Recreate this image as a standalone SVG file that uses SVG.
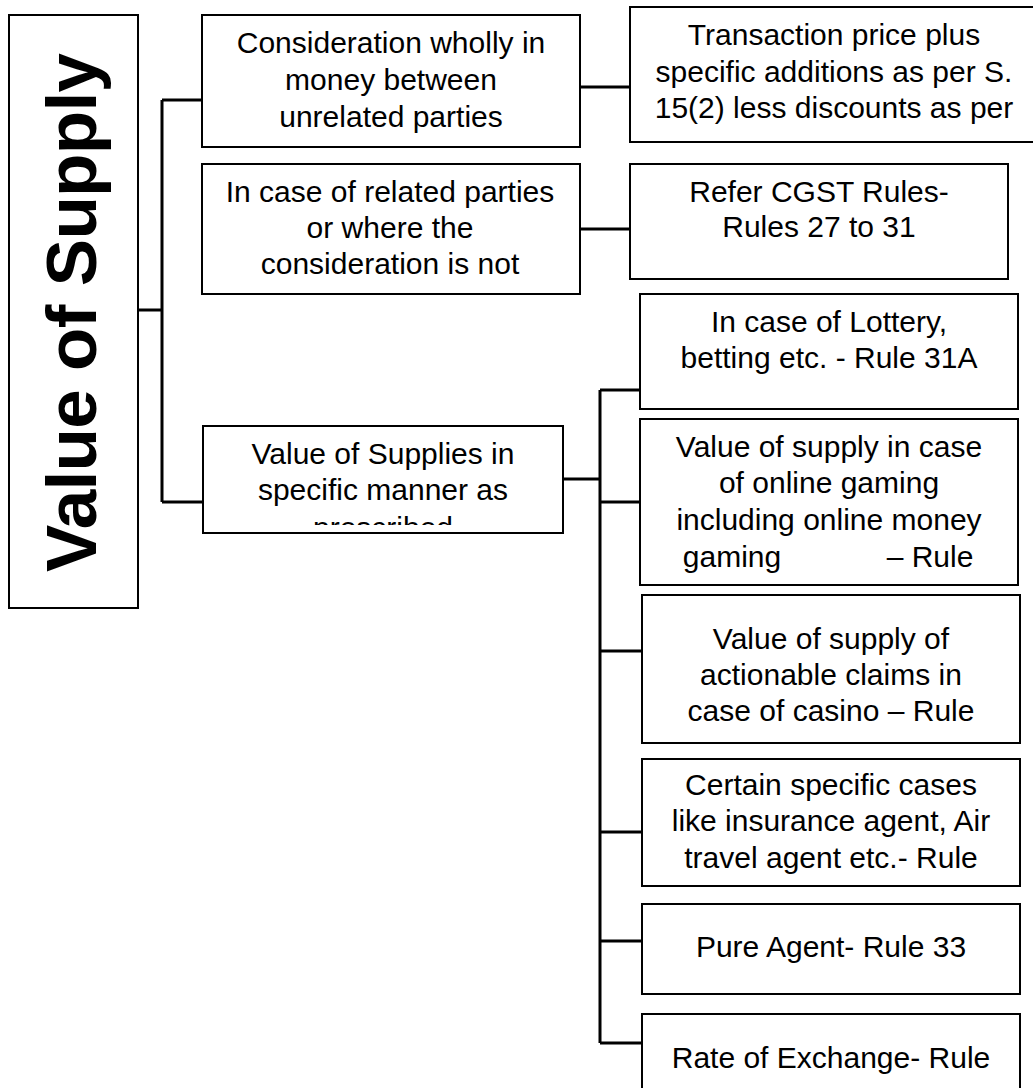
<svg xmlns="http://www.w3.org/2000/svg" width="1033" height="1088" viewBox="0 0 1033 1088">
<style>
.box{fill:#fff;stroke:#000;stroke-width:2}
.t{font-family:"Liberation Sans",Arial,sans-serif;font-size:30px;fill:#000;text-anchor:middle}
.title{font-family:"Liberation Sans",Arial,sans-serif;font-size:71px;font-weight:bold;fill:#000;text-anchor:middle}
.c{fill:none;stroke:#000;stroke-width:3}
</style>
<defs>
<clipPath id="clipM"><rect x="203" y="427" width="360" height="98"/></clipPath>
</defs>
<rect width="1033" height="1088" fill="#fff"/>
<g id="connectors">
<path class="c" d="M138 310 H162 M162 100 V502 M162 100 H202 M162 502 H203"/>
<path class="c" d="M580 87 H630 M580 229 H630"/>
<path class="c" d="M563 479 H600 M600 390 V1043 M600 390 H640 M600 502 H640 M600 651 H642 M600 832 H642 M600 941 H642 M600 1043 H642"/>
</g>
<g id="root">
<rect class="box" x="9" y="15" width="129" height="593"/>
<text class="title" transform="translate(96 312.5) rotate(-90)" x="0" y="0" textLength="519" lengthAdjust="spacing">Value of Supply</text>
</g>
<g id="nodeA">
<rect class="box" x="202" y="15" width="378" height="132"/>
<text class="t" x="391" y="53">Consideration wholly in</text>
<text class="t" x="391" y="90">money between</text>
<text class="t" x="391" y="127">unrelated parties</text>
</g>
<g id="nodeB">
<rect class="box" x="630" y="7" width="410" height="135"/>
<text class="t" x="834" y="45">Transaction price plus</text>
<text class="t" x="834" y="82">specific additions as per S.</text>
<text class="t" x="834" y="118">15(2) less discounts as per</text>
</g>
<g id="nodeC">
<rect class="box" x="202" y="164" width="378" height="130"/>
<text class="t" x="390" y="202">In case of related parties</text>
<text class="t" x="390" y="238">or where the</text>
<text class="t" x="390" y="274">consideration is not</text>
</g>
<g id="nodeD">
<rect class="box" x="630" y="164" width="378" height="115"/>
<text class="t" x="819" y="202">Refer CGST Rules-</text>
<text class="t" x="819" y="237">Rules 27 to 31</text>
</g>
<g id="nodeM">
<rect class="box" x="203" y="426" width="360" height="107"/>
<g clip-path="url(#clipM)">
<text class="t" x="383" y="464">Value of Supplies in</text>
<text class="t" x="383" y="500">specific manner as</text>
<text class="t" x="383" y="538">prescribed</text>
</g>
</g>
<g id="nodeE">
<rect class="box" x="640" y="294" width="378" height="115"/>
<text class="t" x="829" y="332">In case of Lottery,</text>
<text class="t" x="829" y="368">betting etc. - Rule 31A</text>
</g>
<g id="nodeF">
<rect class="box" x="640" y="419" width="378" height="166"/>
<text class="t" x="829" y="457">Value of supply in case</text>
<text class="t" x="829" y="493">of online gaming</text>
<text class="t" x="829" y="530">including online money</text>
<text class="t" x="829" y="567"><tspan x="732">gaming</tspan><tspan x="930">– Rule</tspan></text>
</g>
<g id="nodeG">
<rect class="box" x="642" y="595" width="378" height="148"/>
<text class="t" x="831" y="649">Value of supply of</text>
<text class="t" x="831" y="685">actionable claims in</text>
<text class="t" x="831" y="721">case of casino – Rule</text>
</g>
<g id="nodeH">
<rect class="box" x="642" y="759" width="378" height="127"/>
<text class="t" x="831" y="795">Certain specific cases</text>
<text class="t" x="831" y="831">like insurance agent, Air</text>
<text class="t" x="831" y="868">travel agent etc.- Rule</text>
</g>
<g id="nodeI">
<rect class="box" x="642" y="904" width="378" height="90"/>
<text class="t" x="831" y="957">Pure Agent- Rule 33</text>
</g>
<g id="nodeJ">
<rect class="box" x="642" y="1014" width="378" height="90"/>
<text class="t" x="831" y="1068">Rate of Exchange- Rule</text>
</g>
</svg>
